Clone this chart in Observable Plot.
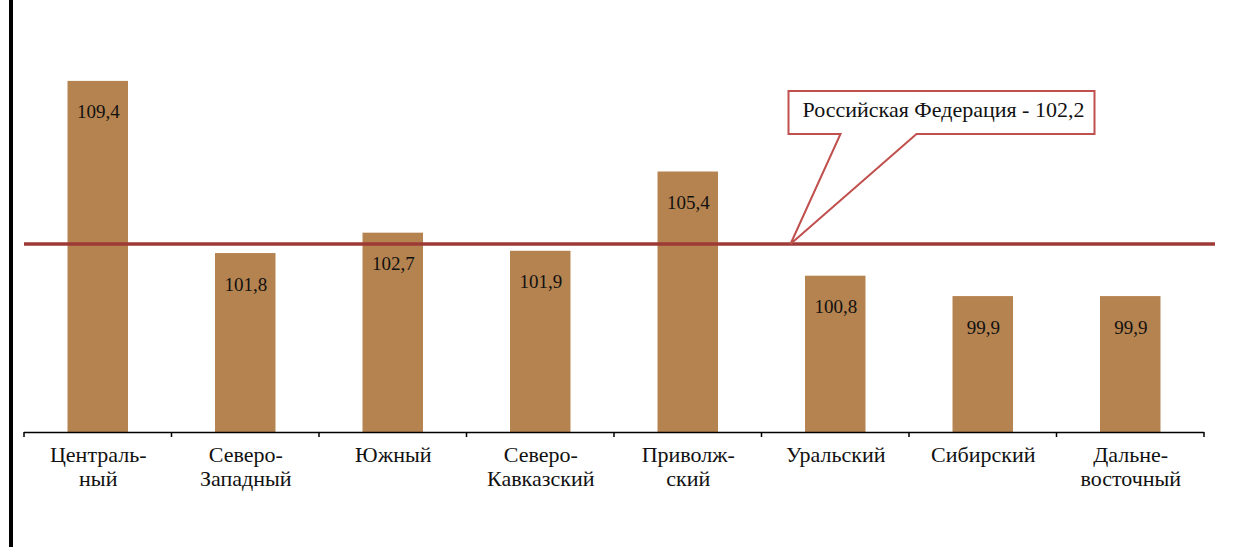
<!DOCTYPE html>
<html><head><meta charset="utf-8">
<script src="https://cdn.jsdelivr.net/npm/d3@7"></script>
<script src="https://cdn.jsdelivr.net/npm/@observablehq/plot@0.6"></script>
<style>
body{margin:0;background:#fff;}
#wrap{position:relative;width:1239px;height:547px;overflow:hidden;background:#fff;}
#frame{position:absolute;left:9px;top:0;width:4px;height:547px;background:#000;}
#chart{position:absolute;left:0;top:0;}
</style></head><body>
<div id="wrap"><div id="chart"></div><div id="frame"></div></div>
<script>
const regions = ["Централь-\nный", "Северо-\nЗападный", "Южный", "Северо-\nКавказский", "Приволж-\nский", "Уральский", "Сибирский", "Дальне-\nвосточный"];
const values = [109.4, 101.8, 102.7, 101.9, 105.4, 100.8, 99.9, 99.9];
const valueLabels = ["109,4", "101,8", "102,7", "101,9", "105,4", "100,8", "99,9", "99,9"];
const russiaValue = 102.2;
const russiaLabel = "Российская Федерация - 102,2";
const yMin = 93.9, yMax = 112;

const data = regions.map((r, i) => ({region: r, value: values[i], label: valueLabels[i]}));
const serif = "Liberation Serif";

const plot = Plot.plot({
  width: 1239, height: 547,
  marginLeft: 24, marginRight: 35, marginTop: 22, marginBottom: 115,
  style: {fontFamily: serif, background: "transparent"},
  x: {domain: regions, paddingInner: 0.59, paddingOuter: 0.295, round: false, axis: null},
  y: {domain: [yMin, yMax], axis: null},
  marks: [
    Plot.barY(data, {x: "region", y1: yMin, y2: "value", fill: "#b5834f"}),
    Plot.text(data, {x: "region", y: "value", text: "label", dy: 31, fontSize: 19, fontFamily: serif, fill: "#111"}),
    Plot.ruleY([yMin], {stroke: "#000", strokeWidth: 1.5}),
    Plot.text(regions, {x: d => d, text: d => d, frameAnchor: "bottom", lineAnchor: "top", dy: 13, fontSize: 22, fontFamily: serif, lineHeight: 1.08, fill: "#111"})
  ]
});
document.getElementById("chart").appendChild(plot);

const svg = d3.select(plot);
const xs = plot.scale("x"), ys = plot.scale("y");
const bw = xs.bandwidth;
const step = xs.step || (xs.range[1] - xs.range[0]) / regions.length;
const centers = regions.map(r => xs.apply(r) + bw / 2);
const bounds = [centers[0] - step / 2, ...centers.map(c => c + step / 2)];
const base = ys.apply(yMin);

// category boundary ticks
svg.append("g").selectAll("line").data(bounds).join("line")
  .attr("x1", d => d).attr("x2", d => d)
  .attr("y1", base).attr("y2", base + 5)
  .attr("stroke", "#000").attr("stroke-width", 1.5);

// Russian Federation reference line
const ry = ys.apply(russiaValue);
svg.append("line")
  .attr("x1", bounds[0]).attr("x2", bounds[bounds.length - 1] + 11)
  .attr("y1", ry).attr("y2", ry)
  .attr("stroke", "#9e3a36").attr("stroke-width", 3.5);

// callout
const tipX = bounds[5] + 29, tipY = ry;
const bL = tipX - 2, bR = tipX + 304, bT = tipY - 153, bB = tipY - 110;
svg.append("path")
  .attr("d", `M${bL},${bT}H${bR}V${bB}H${tipX + 126}L${tipX},${tipY}L${tipX + 50},${bB}H${bL}Z`)
  .attr("fill", "#fff").attr("stroke", "#c0504d").attr("stroke-width", 2);
svg.append("text")
  .attr("x", (bL + bR) / 2 + 2).attr("y", (bT + bB) / 2 + 4.5)
  .attr("text-anchor", "middle")
  .attr("font-family", serif)
  .attr("font-size", 22).attr("fill", "#111")
  .text(russiaLabel);
</script>
</body></html>
